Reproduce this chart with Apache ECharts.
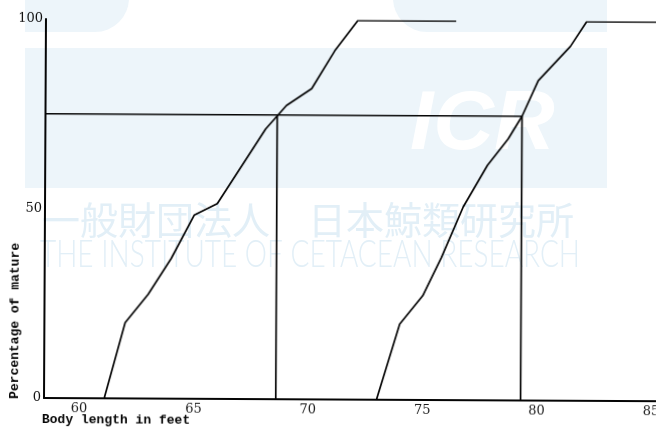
<!DOCTYPE html>
<html>
<head>
<meta charset="utf-8">
<script src="https://cdn.jsdelivr.net/npm/echarts@6/dist/echarts.min.js"></script>
<style>
  html, body { margin: 0; padding: 0; background: #ffffff; }
  #stage { position: relative; width: 656px; height: 428px; overflow: hidden; }
  #mark, #chart { position: absolute; left: 0; top: 0; width: 656px; height: 428px; }
  /* the printed figure sits very slightly askew on the page */
  #chart { transform: rotate(0.3deg); transform-origin: 44px 398px; }
</style>
</head>
<body>
<div id="stage">
  <div id="mark"></div>
  <div id="chart"></div>
</div>
<script>
// Body-length ticks (feet) and percentage ticks
const lengthTicks = [60, 65, 70, 75, 80, 85];
const percentTicks = [0, 50, 100];

// Cumulative percentage of mature whales by body length (feet)
const curveLower = [[61.1, 0], [62, 20], [63, 27.5], [64, 37], [65, 48.5], [66, 51.5],
  [68.1, 71.3], [69, 77.5], [70.1, 82], [71.1, 92], [72.1, 100], [76.4, 100]];
const curveUpper = [[73, 0], [74, 20], [75, 27.5], [75.8, 37.5], [76.75, 51], [77.8, 62],
  [78.7, 69], [79.3, 75], [80, 84.4], [81.4, 93.5], [82.1, 100], [85.2, 100]];

// 75 % level and the lengths at which each curve reaches it
const matureLevel = 75;
const matureLengths = [68.6, 79.3];

const xMin = 58.47, xMax = 85.22;

const ink = '#050505';
const wmBand = '#edf5fa';
const wmText = '#e2eff7';

// ---- institute watermark layer ----
const enLine = 'THE INSTITUTE OF CETACEAN RESEARCH';
const enFont = '300 38px Lato';
const meas = document.createElement('canvas').getContext('2d');
meas.font = enFont;
const enScale = 540 / meas.measureText(enLine).width;

const mark = echarts.init(document.getElementById('mark'), null, { renderer: 'canvas' });
mark.setOption({
  backgroundColor: '#ffffff',
  animation: false,
  graphic: [
    { type: 'rect', silent: true, shape: { x: 25, y: -40, width: 104, height: 72, r: [0, 0, 34, 0] }, style: { fill: wmBand } },
    { type: 'rect', silent: true, shape: { x: 393, y: -40, width: 214, height: 72, r: [0, 0, 0, 34] }, style: { fill: wmBand } },
    { type: 'rect', silent: true, shape: { x: 25, y: 48, width: 582, height: 140 }, style: { fill: wmBand } },
    { type: 'text', silent: true, x: 410, y: 168, style: { text: 'ICR', fill: '#ffffff',
        font: 'italic bold 84px "Liberation Sans"', textVerticalAlign: 'bottom' } },
    { type: 'text', silent: true, x: 42, y: 220, style: { text: '一般財団法人\u3000日本鯨類研究所', fill: wmText,
        font: '38px "Noto Sans CJK JP"', textVerticalAlign: 'middle' } },
    { type: 'text', silent: true, x: 40, y: 255, scaleX: enScale, originX: 0, style: { text: enLine, fill: wmText,
        font: enFont, textVerticalAlign: 'middle' } }
  ]
});

// ---- the figure itself ----
const chart = echarts.init(document.getElementById('chart'), null, { renderer: 'canvas' });

const inkLine = (data, w) => ({
  type: 'line', data: data, symbol: 'none', silent: true, z: 5,
  lineStyle: { color: ink, width: w || 1.7 }, animation: false
});

const series = [
  inkLine(curveLower),
  inkLine(curveUpper),
  inkLine([[xMin, matureLevel], [matureLengths[1], matureLevel]], 1.4)
].concat(matureLengths.map(v => inkLine([[v, 0], [v, matureLevel]], 1.7)));

chart.setOption({
  backgroundColor: 'transparent',
  animation: false,
  grid: { left: 44, right: 0, top: 19, bottom: 30, containLabel: false, outerBoundsMode: 'none' },
  xAxis: {
    type: 'value', min: xMin, max: xMax,
    splitLine: { show: false },
    axisLine: { show: true, onZero: false, lineStyle: { color: ink, width: 1.8 } },
    axisTick: { show: false },
    axisLabel: {
      customValues: lengthTicks, margin: 4, hideOverlap: false,
      fontFamily: 'DejaVu Serif', fontSize: 13, color: '#1a1a1a'
    }
  },
  yAxis: {
    type: 'value', min: 0, max: 100,
    splitLine: { show: false },
    axisLine: { show: true, lineStyle: { color: ink, width: 2 } },
    axisTick: { show: false },
    axisLabel: {
      customValues: percentTicks, margin: 3,
      fontFamily: 'DejaVu Serif', fontSize: 13, color: '#111111'
    }
  },
  graphic: [
    { type: 'text', x: 42, y: 420, z: 10, style: { text: 'Body length in feet', fill: ink,
        font: 'bold 13px "Liberation Mono"', textVerticalAlign: 'middle' } },
    { type: 'text', x: 15, y: 321, z: 10, rotation: Math.PI / 2, style: { text: 'Percentage of mature', fill: ink,
        font: 'bold 13px "Liberation Mono"', textAlign: 'center', textVerticalAlign: 'middle' } }
  ],
  series: series
});
</script>
</body>
</html>
